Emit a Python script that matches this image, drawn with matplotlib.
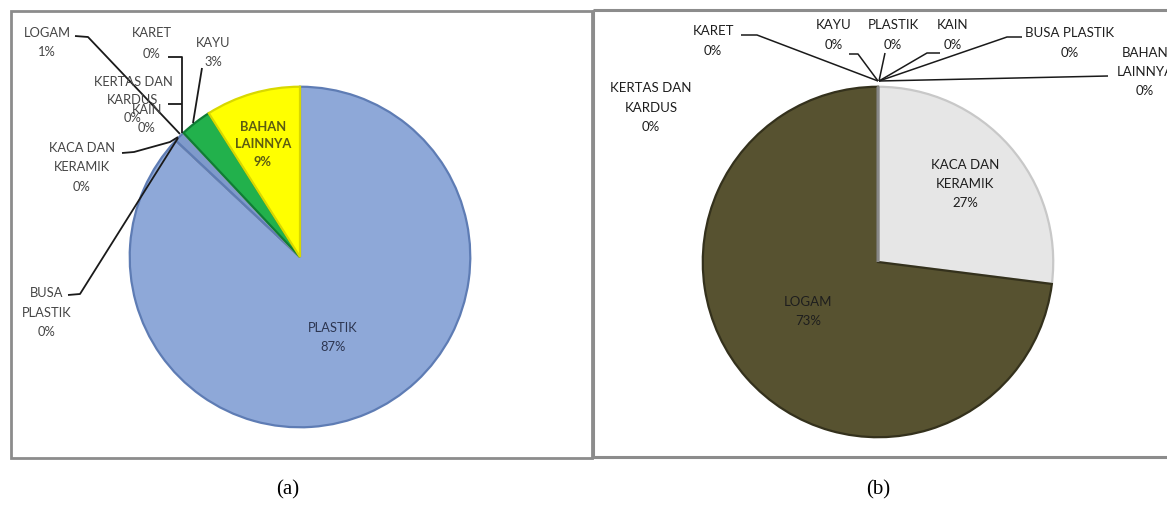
import matplotlib
matplotlib.use("Agg")
import matplotlib.pyplot as plt
from matplotlib.patches import Rectangle

# ---------------- data ----------------
# panel (a): clockwise from 12 o'clock
cats_a = ["PLASTIK", "BUSA PLASTIK", "KACA DAN KERAMIK", "LOGAM",
          "KERTAS DAN KARDUS", "KAIN", "KARET", "KAYU", "BAHAN LAINNYA"]
vals_a = [87, 0, 0, 1, 0, 0, 0, 3, 9]
# panel (b): clockwise from 12 o'clock
cats_b = ["KACA DAN KERAMIK", "LOGAM", "KERTAS DAN KARDUS", "KARET", "KAYU",
          "PLASTIK", "KAIN", "BUSA PLASTIK", "BAHAN LAINNYA"]
vals_b = [27, 73, 0, 0, 0, 0, 0, 0, 0]
captions = ["(a)", "(b)"]

colors_a = ["#8ea8d8", "#4f6fa8", "#9a9a9a", "#7f9acb", "#c0c0c0",
            "#b0b0b0", "#a0a0a0", "#22b14c", "#ffff00"]
edges_a = ["#5e7cb4", "#4f6fa8", "#9a9a9a", "#5e7cb4", "#c0c0c0",
           "#b0b0b0", "#a0a0a0", "#0f7d35", "#d8d800"]
colors_b = ["#e6e6e6", "#575230", "#888888", "#888888", "#888888",
            "#888888", "#888888", "#888888", "#888888"]
edges_b = ["#c8c8c8", "#34311c"] + ["#888888"] * 7

W, H = 1167, 510
fig = plt.figure(figsize=(W / 100, H / 100), dpi=100)
fig.patch.set_facecolor("white")


def pie_axes(cx, cy, r):
    return fig.add_axes([(cx - r) / W, (H - cy - r) / H, 2 * r / W, 2 * r / H])


def finish(ax):
    ax.set_xlim(-1, 1)
    ax.set_ylim(-1, 1)
    ax.axis("off")


# pie (a)
axa = pie_axes(300, 258, 172)
wa, _ = axa.pie(vals_a, startangle=90, counterclock=False, radius=0.99,
                colors=colors_a, wedgeprops=dict(linewidth=1.6))
for w, e in zip(wa, edges_a):
    w.set_edgecolor(e)
finish(axa)

# pie (b)
axb = pie_axes(878, 263, 177)
wb, _ = axb.pie(vals_b, startangle=90, counterclock=False, radius=0.99,
                colors=colors_b, wedgeprops=dict(linewidth=1.6))
for w, e in zip(wb, edges_b):
    w.set_edgecolor(e)
finish(axb)

# overlay in pixel coordinates
ov = fig.add_axes([0, 0, 1, 1], zorder=5)
ov.set_xlim(0, W)
ov.set_ylim(H, 0)
ov.axis("off")
ov.patch.set_alpha(0)

# panel borders
ov.add_patch(Rectangle((11, 12), 581, 447, fill=False, ec="#8c8c8c", lw=2))
ov.add_patch(Rectangle((593, 11), 580, 447, fill=False, ec="#8c8c8c", lw=2.2))

FA = dict(family="Lato", fontsize=9.3, color="#454545", ha="center", va="center")
FB = dict(family="Lato", fontsize=9.5, color="#1e1e1e", ha="center", va="center")


def label(x, ys, lines, **kw):
    for y, t in zip(ys, lines):
        ov.text(x, y, t, **kw)


def lead(pts, lw=1.3, c="#1a1a1a"):
    xs, ys = zip(*pts)
    ov.plot(xs, ys, color=c, lw=lw, solid_capstyle="butt")


# ----- panel (a) labels -----
pa = dict(zip(cats_a, vals_a))
label(47, [33, 52], ["LOGAM", f"{pa['LOGAM']}%"], **FA)
lead([(75, 37), (88, 38), (180, 135)])
label(152, [33, 54], ["KARET", f"{pa['KARET']}%"], **FA)
lead([(168, 58), (182, 58), (182, 134)])
label(213, [43, 62], ["KAYU", f"{pa['KAYU']}%"], **FA)
lead([(202, 69), (193, 124)])
label(133, [82, 100, 118], ["KERTAS DAN", "KARDUS", f"{pa['KERTAS DAN KARDUS']}%"], **FA)
lead([(168, 105), (182, 105)])
label(147, [110, 128], ["KAIN", f"{pa['KAIN']}%"], **FA)
label(82, [148, 167, 187], ["KACA DAN", "KERAMIK", f"{pa['KACA DAN KERAMIK']}%"], **FA)
lead([(122, 154), (134, 153), (170, 143), (178, 138)])
label(47, [293, 313, 332], ["BUSA", "PLASTIK", f"{pa['BUSA PLASTIK']}%"], **FA)
lead([(68, 296), (80, 295), (178, 139)])
label(263, [127, 144, 162], ["BAHAN", "LAINNYA", f"{pa['BAHAN LAINNYA']}%"],
      family="Lato", fontsize=9.3, color="#5c5c12", fontweight="bold",
      ha="center", va="center")
label(333, [328, 347], ["PLASTIK", f"{pa['PLASTIK']}%"],
      family="Lato", fontsize=9.3, color="#2c3550", ha="center", va="center")

# ----- panel (b) labels -----
pb = dict(zip(cats_b, vals_b))
lw_b = 1.1
label(713, [31, 51], ["KARET", f"{pb['KARET']}%"], **FB)
lead([(741, 36), (757, 36), (878, 82)], lw=lw_b)
label(834, [25, 45], ["KAYU", f"{pb['KAYU']}%"], **FB)
lead([(849, 55), (858, 55), (878, 82)], lw=lw_b)
label(893, [25, 45], ["PLASTIK", f"{pb['PLASTIK']}%"], **FB)
lead([(885, 54), (879, 82)], lw=lw_b)
label(953, [25, 45], ["KAIN", f"{pb['KAIN']}%"], **FB)
lead([(940, 54), (927, 54), (879, 82)], lw=lw_b)
label(1070, [33, 53], ["BUSA PLASTIK", f"{pb['BUSA PLASTIK']}%"], **FB)
lead([(1022, 38), (1007, 38), (879, 82)], lw=lw_b)
label(1145, [53, 72, 91], ["BAHAN", "LAINNYA", f"{pb['BAHAN LAINNYA']}%"], **FB)
lead([(1108, 77), (879, 82)], lw=lw_b)
label(651, [88, 108, 127], ["KERTAS DAN", "KARDUS", f"{pb['KERTAS DAN KARDUS']}%"], **FB)
label(965, [165, 184, 203], ["KACA DAN", "KERAMIK", f"{pb['KACA DAN KERAMIK']}%"], **FB)
label(808, [302, 321], ["LOGAM", f"{pb['LOGAM']}%"], **FB)

# captions
ov.text(288, 490, captions[0], family="Liberation Serif", fontsize=15,
        ha="center", va="center", color="black")
ov.text(878, 490, captions[1], family="Liberation Serif", fontsize=15,
        ha="center", va="center", color="black")

fig.savefig("out.png", dpi=100, facecolor="white")
